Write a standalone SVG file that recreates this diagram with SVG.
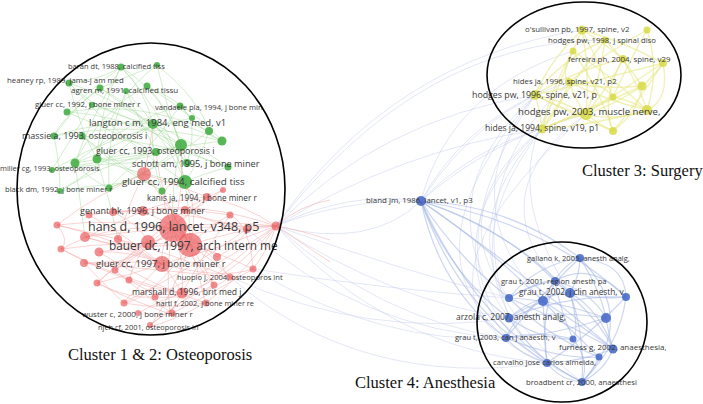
<svg xmlns="http://www.w3.org/2000/svg" width="703" height="404" viewBox="0 0 703 404">
<style>
.e path{fill:none;stroke-width:1}
.eg{stroke:#a8dba0;stroke-opacity:.5}
.er{stroke:#f3a8a8;stroke-opacity:.5}
.ey{stroke:#e8e888;stroke-opacity:.6}
.ey path{stroke-width:1.4}
.eb{stroke:#a3b5e4;stroke-opacity:.55}
.eb path{stroke-width:1.2}
.ex{stroke:#c0cae9;stroke-opacity:.5}
.ex path{stroke-width:.9}
.g{fill:#46ae46;fill-opacity:.9}
.r{fill:#e8484c;fill-opacity:.62}
.y{fill:#d6d83e;fill-opacity:.8}
.b{fill:#3f64c6;fill-opacity:.85}
text{font-family:"Open Sans","Liberation Sans",sans-serif;fill:#383838}
.t{font-family:"Liberation Serif","Times New Roman",serif;fill:#111;font-size:16.5px}
.ring{fill:none;stroke:#000;stroke-width:1.6}
</style>
<rect width="703" height="404" fill="#fff"/>
<g id="connectors" class="e">
<g class="ex">
<path d="M276 226 Q350 190 421 201"/>
<path d="M276 226 Q340 200 421 201"/>
<path d="M276 226 Q390 300 509 318"/>
<path d="M276 226 Q380 320 506 338"/>
<path d="M276 226 Q400 270 509 298"/>
<path d="M276 226 Q380 120 535 95"/>
<path d="M276 226 Q400 150 542 129"/>
<path d="M247 229 Q360 330 506 338"/>
<path d="M230 277 Q370 340 509 318"/>
<path d="M276 226 Q390 350 547 363"/>
<path d="M253 269 Q380 345 506 338"/>
<path d="M253 269 Q390 290 509 298"/>
<path d="M509 298 Q440 210 542 129"/>
<path d="M509 318 Q420 200 535 95"/>
<path d="M506 338 Q430 230 542 129"/>
<path d="M543 301 Q450 200 535 95"/>
<path d="M555 281 Q480 190 586 114"/>
<path d="M570 293 Q490 170 569 82"/>
<path d="M547 363 Q440 260 542 129"/>
<path d="M582 382 Q400 300 535 95"/>
<path d="M276 226 Q390 60 582 30"/>
<path d="M421 201 Q460 130 535 95"/>
<path d="M421 201 Q470 150 542 129"/>
<path d="M421 201 Q490 140 586 114"/>
<path d="M421 201 Q480 110 569 82"/>
<path d="M421 201 Q450 90 573 51"/>
<path d="M506 338 Q400 250 535 95"/>
<path d="M509 318 Q460 180 569 82"/>
<path d="M582 382 Q420 260 542 129"/>
<path d="M547 363 Q380 300 586 114"/>
<path d="M276 226 Q420 40 605 40"/>
<path d="M230 277 Q360 390 547 363"/>
<path d="M276 226 Q370 250 421 201"/>
</g>
<g class="eg">
<path d="M121 67 Q145 90 153 124"/>
<path d="M121 67 Q165 95 181 145"/>
<path d="M69 83 Q100 115 153 124"/>
<path d="M69 83 Q120 100 181 145"/>
<path d="M100 88 Q160 120 185 182"/>
<path d="M147 86 Q100 110 75 163"/>
<path d="M67 112 Q140 100 209 131"/>
<path d="M92 105 Q150 120 187 163"/>
<path d="M180 106 Q130 120 75 163"/>
<path d="M153 124 Q180 150 185 182"/>
<path d="M153 124 Q110 150 75 163"/>
<path d="M54 136 Q140 120 222 141"/>
<path d="M82 136 Q160 140 228 167"/>
<path d="M181 145 Q140 165 97 159"/>
<path d="M156 152 Q100 165 60 191"/>
<path d="M157 65 Q110 100 97 159"/>
<path d="M126 91 Q105 140 109 188"/>
<path d="M192 118 Q120 130 52 170"/>
<path d="M209 131 Q160 170 109 188"/>
<path d="M222 141 Q150 150 75 163"/>
<path d="M185 182 Q120 180 60 191"/>
<path d="M185 182 Q170 120 121 67"/>
<path d="M181 145 Q120 115 67 112"/>
<path d="M153 124 Q100 120 54 136"/>
<path d="M147 86 Q190 105 222 141"/>
<path d="M69 83 Q120 140 185 182"/>
<path d="M187 163 Q120 160 52 170"/>
<path d="M162 190 Q150 160 153 124"/>
<path d="M180 106 Q150 150 109 188"/>
<path d="M121 67 Q100 105 97 159"/>
<path d="M157 65 Q200 100 209 131"/>
<path d="M100 88 Q60 120 54 136"/>
<path d="M121 67 Q90 120 75 163"/>
<path d="M157 65 Q170 120 187 163"/>
<path d="M69 83 Q80 130 97 159"/>
<path d="M100 88 Q130 110 153 124"/>
<path d="M147 86 Q170 110 181 145"/>
<path d="M126 91 Q160 130 187 163"/>
<path d="M67 112 Q110 130 156 152"/>
<path d="M92 105 Q70 140 52 170"/>
<path d="M180 106 Q200 130 222 141"/>
<path d="M153 124 Q190 140 228 167"/>
<path d="M54 136 Q60 165 60 191"/>
<path d="M82 136 Q120 165 162 191"/>
<path d="M181 145 Q200 160 228 167"/>
<path d="M97 159 Q140 175 185 182"/>
<path d="M75 163 Q90 180 109 188"/>
<path d="M209 131 Q200 160 185 182"/>
<path d="M222 141 Q180 120 153 124"/>
<path d="M192 118 Q170 100 147 86"/>
<path d="M69 83 Q100 80 121 67"/>
<path d="M100 88 Q130 75 157 65"/>
<path d="M67 112 Q90 90 121 67"/>
<path d="M54 136 Q80 100 100 88"/>
<path d="M156 152 Q140 120 126 91"/>
<path d="M187 163 Q200 120 180 106"/>
<path d="M52 170 Q110 160 156 152"/>
<path d="M109 188 Q150 175 181 145"/>
<path d="M60 191 Q110 160 153 124"/>
<path d="M228 167 Q200 175 185 182"/>
<path d="M162 191 Q120 170 82 136"/>
<path d="M185 182 Q190 215 190 245"/>
<path d="M181 145 Q170 190 173 228"/>
<path d="M75 163 Q80 200 85 237"/>
<path d="M97 159 Q110 200 118 239"/>
</g>
<g class="er">
<path d="M144 174 Q150 150 153 124"/>
<path d="M173 228 Q185 190 181 145"/>
<path d="M190 245 Q200 210 185 182"/>
<path d="M173 228 Q185 235 190 245"/>
<path d="M173 228 Q160 245 162 264"/>
<path d="M173 228 Q130 225 85 237"/>
<path d="M173 228 Q115 218 57 225"/>
<path d="M173 228 Q225 220 276 226"/>
<path d="M173 228 Q185 260 182 293"/>
<path d="M173 228 Q165 270 170 314"/>
<path d="M173 228 Q140 255 115 270"/>
<path d="M173 228 Q195 210 207 197"/>
<path d="M190 245 Q235 230 276 226"/>
<path d="M190 245 Q215 262 230 277"/>
<path d="M190 245 Q145 245 99 252"/>
<path d="M190 245 Q125 240 61 249"/>
<path d="M190 245 Q200 275 205 303"/>
<path d="M190 245 Q175 290 150 327"/>
<path d="M190 245 Q225 255 253 269"/>
<path d="M162 264 Q120 245 85 237"/>
<path d="M162 264 Q120 260 84 263"/>
<path d="M162 264 Q130 275 97 283"/>
<path d="M162 264 Q175 280 182 293"/>
<path d="M162 264 Q140 285 123 303"/>
<path d="M148 242 Q200 230 247 229"/>
<path d="M148 242 Q135 260 129 280"/>
<path d="M143 211 Q185 230 217 257"/>
<path d="M113 212 Q170 205 230 215"/>
<path d="M89 215 Q125 235 162 264"/>
<path d="M144 174 Q170 205 190 245"/>
<path d="M144 174 Q95 195 57 225"/>
<path d="M276 226 Q215 250 162 264"/>
<path d="M276 226 Q262 225 247 229"/>
<path d="M276 226 Q245 205 207 197"/>
<path d="M276 226 Q180 225 85 237"/>
<path d="M276 226 Q268 250 253 269"/>
<path d="M276 226 Q220 265 155 297"/>
<path d="M230 277 Q160 270 84 263"/>
<path d="M99 252 Q150 285 205 303"/>
<path d="M61 249 Q120 280 182 293"/>
<path d="M223 190 Q170 225 115 270"/>
<path d="M185 210 Q140 245 97 283"/>
<path d="M118 239 Q175 255 230 277"/>
<path d="M247 229 Q190 270 123 303"/>
<path d="M182 293 Q155 290 129 280"/>
<path d="M205 303 Q180 318 150 327"/>
<path d="M170 314 Q130 300 97 283"/>
<path d="M143 211 Q100 230 61 249"/>
<path d="M230 215 Q200 260 170 314"/>
<path d="M276 226 Q300 205 330 200"/>
<path d="M276 226 Q305 245 330 262"/>
<path d="M276 226 Q300 230 330 240"/>
<path d="M57 225 Q70 240 61 249"/>
<path d="M85 237 Q120 250 148 242"/>
<path d="M61 249 Q100 270 129 280"/>
<path d="M99 252 Q130 250 162 264"/>
<path d="M84 263 Q110 290 124 303"/>
<path d="M115 270 Q150 300 172 313"/>
<path d="M97 283 Q130 300 155 297"/>
<path d="M129 280 Q160 300 182 293"/>
<path d="M124 303 Q160 310 206 303"/>
<path d="M138 313 Q160 300 182 293"/>
<path d="M150 325 Q180 300 214 285"/>
<path d="M214 285 Q200 260 190 245"/>
<path d="M217 257 Q240 245 247 229"/>
<path d="M230 215 Q250 225 253 269"/>
<path d="M207 197 Q170 200 143 211"/>
<path d="M223 190 Q200 200 185 210"/>
<path d="M113 212 Q140 225 148 242"/>
<path d="M89 215 Q120 210 143 211"/>
<path d="M57 225 Q100 235 118 239"/>
<path d="M118 239 Q140 250 162 264"/>
<path d="M173 228 Q130 270 84 263"/>
<path d="M190 245 Q150 300 124 303"/>
<path d="M173 228 Q210 250 230 277"/>
<path d="M276 226 Q230 280 182 293"/>
<path d="M276 226 Q250 270 206 303"/>
<path d="M276 226 Q200 200 143 211"/>
<path d="M276 226 Q200 290 150 325"/>
<path d="M247 229 Q190 210 113 212"/>
<path d="M253 269 Q200 300 172 313"/>
<path d="M230 277 Q200 300 155 297"/>
<path d="M162 264 Q120 240 57 225"/>
<path d="M148 242 Q110 270 97 283"/>
<path d="M185 210 Q230 230 247 229"/>
<path d="M144 174 Q130 200 118 239"/>
<path d="M144 174 Q190 190 207 197"/>
<path d="M190 245 Q210 225 230 215"/>
<path d="M173 228 Q200 270 214 285"/>
<path d="M162 264 Q220 280 253 269"/>
<path d="M173 228 Q150 180 185 182"/>
<path d="M190 245 Q160 200 156 152"/>
</g>
<g class="ey">
<path d="M582 30 Q590 70 586 114"/>
<path d="M582 30 Q550 60 535 95"/>
<path d="M647 30 Q660 70 647 110"/>
<path d="M605 40 Q570 85 542 129"/>
<path d="M573 51 Q600 90 613 131"/>
<path d="M623 59 Q575 70 535 95"/>
<path d="M663 63 Q630 85 586 114"/>
<path d="M569 82 Q605 100 647 110"/>
<path d="M642 86 Q590 110 542 129"/>
<path d="M535 95 Q560 100 586 114"/>
<path d="M613 97 Q600 65 582 30"/>
<path d="M586 114 Q600 125 613 131"/>
<path d="M647 110 Q595 125 542 129"/>
<path d="M623 59 Q610 85 586 114"/>
<path d="M663 63 Q655 75 642 86"/>
<path d="M642 86 Q615 105 586 114"/>
<path d="M535 95 Q575 115 613 131"/>
<path d="M605 40 Q625 60 642 86"/>
<path d="M647 30 Q610 50 569 82"/>
<path d="M573 51 Q610 75 647 110"/>
<path d="M582 30 Q600 40 623 59"/>
<path d="M569 82 Q575 100 586 114"/>
<path d="M613 97 Q575 115 542 129"/>
<path d="M663 63 Q640 100 613 131"/>
<path d="M535 95 Q600 80 663 63"/>
<path d="M582 30 Q560 80 542 129"/>
<path d="M647 30 Q630 60 613 97"/>
<path d="M605 40 Q600 80 586 114"/>
<path d="M573 51 Q560 75 569 82"/>
<path d="M623 59 Q640 90 647 110"/>
<path d="M663 63 Q670 100 647 110"/>
<path d="M569 82 Q600 80 613 97"/>
<path d="M642 86 Q640 110 613 131"/>
<path d="M535 95 Q540 110 542 129"/>
<path d="M613 97 Q630 100 647 110"/>
<path d="M586 114 Q560 120 542 129"/>
<path d="M605 40 Q560 60 535 95"/>
<path d="M573 51 Q550 90 542 129"/>
<path d="M623 59 Q600 100 613 131"/>
<path d="M582 30 Q620 40 663 63"/>
<path d="M569 82 Q560 110 542 129"/>
<path d="M642 86 Q600 90 569 82"/>
<path d="M535 95 Q600 130 647 110"/>
</g>
<g class="eb">
<path d="M421 201 Q510 205 580 258"/>
<path d="M421 201 Q500 225 555 281"/>
<path d="M421 201 Q510 230 570 293"/>
<path d="M421 201 Q480 240 543 301"/>
<path d="M421 201 Q455 255 509 298"/>
<path d="M421 201 Q450 275 509 318"/>
<path d="M421 201 Q440 290 506 338"/>
<path d="M421 201 Q460 310 547 363"/>
<path d="M421 201 Q480 330 582 382"/>
<path d="M421 201 Q540 220 626 297"/>
<path d="M421 201 Q520 270 613 349"/>
<path d="M580 258 Q580 275 570 293"/>
<path d="M580 258 Q535 265 509 298"/>
<path d="M555 281 Q590 290 606 318"/>
<path d="M570 293 Q535 295 509 318"/>
<path d="M570 293 Q585 335 582 382"/>
<path d="M570 293 Q600 310 613 349"/>
<path d="M543 301 Q570 330 599 357"/>
<path d="M543 301 Q515 315 506 338"/>
<path d="M509 298 Q560 320 613 349"/>
<path d="M509 298 Q555 300 606 318"/>
<path d="M626 297 Q590 335 547 363"/>
<path d="M626 297 Q620 345 582 382"/>
<path d="M509 318 Q555 310 606 318"/>
<path d="M509 318 Q535 360 582 382"/>
<path d="M606 318 Q555 335 506 338"/>
<path d="M506 338 Q520 355 547 363"/>
<path d="M573 339 Q560 310 555 281"/>
<path d="M547 363 Q580 362 613 349"/>
<path d="M599 357 Q545 335 509 298"/>
<path d="M582 382 Q605 370 613 349"/>
<path d="M626 297 Q565 295 509 318"/>
<path d="M555 281 Q540 320 547 363"/>
<path d="M580 258 Q640 320 582 382"/>
<path d="M543 301 Q580 325 613 349"/>
<path d="M580 258 Q545 290 506 338"/>
<path d="M555 281 Q530 285 509 298"/>
<path d="M570 293 Q560 290 543 301"/>
<path d="M543 301 Q520 310 509 318"/>
<path d="M606 318 Q610 340 613 349"/>
<path d="M573 339 Q590 360 582 382"/>
<path d="M599 357 Q590 375 582 382"/>
<path d="M509 318 Q540 340 573 339"/>
<path d="M506 338 Q540 330 573 339"/>
<path d="M580 258 Q600 290 606 318"/>
<path d="M626 297 Q600 300 570 293"/>
<path d="M555 281 Q590 260 626 297"/>
<path d="M509 298 Q540 280 555 281"/>
<path d="M547 363 Q560 380 582 382"/>
<path d="M506 338 Q560 360 599 357"/>
<path d="M543 301 Q545 340 547 363"/>
<path d="M570 293 Q580 330 573 339"/>
<path d="M613 349 Q600 320 555 281"/>
<path d="M580 258 Q560 265 543 301"/>
<path d="M580 258 Q625 262 626 297" stroke-width="4"/>
</g>
</g>
<g id="nodes">
<g id="n-g1"><circle class="g" cx="121" cy="67" r="3.5"/></g>
<g id="n-g2"><circle class="g" cx="157" cy="65" r="3"/></g>
<g id="n-g3"><circle class="g" cx="69" cy="83" r="3.5"/></g>
<g id="n-g4"><circle class="g" cx="100" cy="88" r="3.5"/></g>
<g id="n-g5"><circle class="g" cx="147" cy="86" r="3.5"/></g>
<g id="n-g6"><circle class="g" cx="126" cy="91" r="3"/></g>
<g id="n-g7"><circle class="g" cx="67" cy="112" r="3.5"/></g>
<g id="n-g8"><circle class="g" cx="92" cy="105" r="3"/></g>
<g id="n-g9"><circle class="g" cx="180" cy="106" r="3.5"/></g>
<g id="n-g10"><circle class="g" cx="153" cy="124" r="5"/></g>
<g id="n-g11"><circle class="g" cx="192" cy="118" r="3"/></g>
<g id="n-g12"><circle class="g" cx="209" cy="131" r="4"/></g>
<g id="n-g13"><circle class="g" cx="222" cy="141" r="4.5"/></g>
<g id="n-g14"><circle class="g" cx="54" cy="136" r="3.5"/></g>
<g id="n-g15"><circle class="g" cx="82" cy="136" r="3.5"/></g>
<g id="n-g16"><circle class="g" cx="181" cy="145" r="6"/></g>
<g id="n-g17"><circle class="g" cx="156" cy="152" r="4"/></g>
<g id="n-g18"><circle class="g" cx="187" cy="163" r="4"/></g>
<g id="n-g19"><circle class="g" cx="228" cy="167" r="3.5"/></g>
<g id="n-g20"><circle class="g" cx="75" cy="163" r="4.5"/></g>
<g id="n-g21"><circle class="g" cx="97" cy="159" r="4.5"/></g>
<g id="n-g22"><circle class="g" cx="52" cy="170" r="3"/></g>
<g id="n-g23"><circle class="g" cx="185" cy="182" r="7"/></g>
<g id="n-g24"><circle class="g" cx="60" cy="191" r="3"/></g>
<g id="n-g25"><circle class="g" cx="109" cy="188" r="3.5"/></g>
<g id="n-g26"><circle class="g" cx="162" cy="191" r="3.5"/></g>
<g id="n-r1"><circle class="r" cx="144" cy="174" r="7"/></g>
<g id="n-r2"><circle class="r" cx="207" cy="197" r="4"/></g>
<g id="n-r3"><circle class="r" cx="223" cy="190" r="3"/></g>
<g id="n-r4"><circle class="r" cx="89" cy="215" r="3.5"/></g>
<g id="n-r5"><circle class="r" cx="113" cy="212" r="4"/></g>
<g id="n-r6"><circle class="r" cx="143" cy="211" r="5"/></g>
<g id="n-r7"><circle class="r" cx="185" cy="210" r="4"/></g>
<g id="n-r8"><circle class="r" cx="173" cy="228" r="14"/></g>
<g id="n-r9"><circle class="r" cx="247" cy="229" r="4"/></g>
<g id="n-r10"><circle class="r" cx="190" cy="245" r="12"/></g>
<g id="n-r11"><circle class="r" cx="148" cy="242" r="7"/></g>
<g id="n-r12"><circle class="r" cx="162" cy="264" r="8"/></g>
<g id="n-r13"><circle class="r" cx="230" cy="277" r="3.5"/></g>
<g id="n-r14"><circle class="r" cx="182" cy="293" r="5.5"/></g>
<g id="n-r15"><circle class="r" cx="155" cy="297" r="3.5"/></g>
<g id="n-r16"><circle class="r" cx="206" cy="303" r="3.5"/></g>
<g id="n-r17"><circle class="r" cx="172" cy="313" r="3.5"/></g>
<g id="n-r18"><circle class="r" cx="150" cy="325" r="3"/></g>
<g id="n-r19"><circle class="r" cx="57" cy="225" r="3.5"/></g>
<g id="n-r20"><circle class="r" cx="85" cy="237" r="5"/></g>
<g id="n-r21"><circle class="r" cx="61" cy="249" r="3.5"/></g>
<g id="n-r22"><circle class="r" cx="99" cy="252" r="4.5"/></g>
<g id="n-r23"><circle class="r" cx="84" cy="263" r="4"/></g>
<g id="n-r24"><circle class="r" cx="115" cy="270" r="3.5"/></g>
<g id="n-r25"><circle class="r" cx="97" cy="283" r="3.5"/></g>
<g id="n-r26"><circle class="r" cx="129" cy="280" r="3.5"/></g>
<g id="n-r27"><circle class="r" cx="124" cy="303" r="3.5"/></g>
<g id="n-r28"><circle class="r" cx="276" cy="226" r="4.5"/></g>
<g id="n-r29"><circle class="r" cx="230" cy="215" r="3.5"/></g>
<g id="n-r30"><circle class="r" cx="217" cy="257" r="4"/></g>
<g id="n-r31"><circle class="r" cx="253" cy="269" r="3.5"/></g>
<g id="n-r32"><circle class="r" cx="118" cy="239" r="4"/></g>
<g id="n-r33"><circle class="r" cx="214" cy="285" r="3.5"/></g>
<g id="n-r34"><circle class="r" cx="138" cy="313" r="3"/></g>
<g id="n-y1"><circle class="y" cx="582" cy="30" r="4.5"/></g>
<g id="n-y2"><circle class="y" cx="647" cy="30" r="3.5"/></g>
<g id="n-y3"><circle class="y" cx="605" cy="40" r="3.5"/></g>
<g id="n-y4"><circle class="y" cx="573" cy="51" r="3.5"/></g>
<g id="n-y5"><circle class="y" cx="623" cy="59" r="4"/></g>
<g id="n-y6"><circle class="y" cx="663" cy="63" r="4"/></g>
<g id="n-y7"><circle class="y" cx="569" cy="82" r="4"/></g>
<g id="n-y8"><circle class="y" cx="642" cy="86" r="4.5"/></g>
<g id="n-y9"><circle class="y" cx="535" cy="95" r="5"/></g>
<g id="n-y10"><circle class="y" cx="613" cy="97" r="3.5"/></g>
<g id="n-y11"><circle class="y" cx="586" cy="114" r="6"/></g>
<g id="n-y12"><circle class="y" cx="647" cy="110" r="5"/></g>
<g id="n-y13"><circle class="y" cx="542" cy="129" r="4.5"/></g>
<g id="n-y14"><circle class="y" cx="613" cy="131" r="4"/></g>
<g id="n-b0"><circle class="b" cx="421" cy="201" r="5"/></g>
<g id="n-b1"><circle class="b" cx="580" cy="258" r="4"/></g>
<g id="n-b2"><circle class="b" cx="555" cy="281" r="4"/></g>
<g id="n-b3"><circle class="b" cx="570" cy="293" r="5"/></g>
<g id="n-b4"><circle class="b" cx="543" cy="301" r="5"/></g>
<g id="n-b5"><circle class="b" cx="509" cy="298" r="4"/></g>
<g id="n-b6"><circle class="b" cx="626" cy="297" r="4"/></g>
<g id="n-b7"><circle class="b" cx="509" cy="318" r="4.5"/></g>
<g id="n-b8"><circle class="b" cx="606" cy="318" r="5"/></g>
<g id="n-b9"><circle class="b" cx="506" cy="338" r="4"/></g>
<g id="n-b10"><circle class="b" cx="573" cy="339" r="3.5"/></g>
<g id="n-b11"><circle class="b" cx="613" cy="349" r="4.5"/></g>
<g id="n-b12"><circle class="b" cx="547" cy="363" r="4"/></g>
<g id="n-b13"><circle class="b" cx="599" cy="357" r="3.5"/></g>
<g id="n-b14"><circle class="b" cx="582" cy="382" r="4"/></g>
</g>
<g id="labels">
<text x="68" y="68.6" font-size="7.5">baran dt, 1988, calcified tiss</text>
<text x="7" y="82.8" font-size="7.8">heaney rp, 1989, jama-j am med</text>
<text x="71" y="92.8" font-size="8">agren m, 1991, calcified tissu</text>
<text x="35" y="106.8" font-size="7.8">gluer cc, 1992, j bone miner r</text>
<text x="155" y="109.7" font-size="7.6">vandaele pla, 1994, j bone min</text>
<text x="89" y="126.3" font-size="9.5">langton c m, 1984, eng med, v1</text>
<text x="22" y="139.2" font-size="9">massie a, 1993, osteoporosis i</text>
<text x="96" y="154.1" font-size="8.8">gluer cc, 1993, osteoporosis i</text>
<text x="132" y="167.2" font-size="9.2">schott am, 1995, j bone miner</text>
<text x="0" y="170.6" font-size="7.5">miller cg, 1993, osteoporosis</text>
<text x="122" y="185.4" font-size="9.8">gluer cc, 1994, calcified tiss</text>
<text x="5" y="191.7" font-size="7.6">black dm, 1992, j bone miner r</text>
<text x="147" y="200.9" font-size="8.2">kanis ja, 1994, j bone miner r</text>
<text x="80" y="214.2" font-size="9">genant hk, 1996, j bone miner</text>
<text x="88" y="231.4" font-size="12.5">hans d, 1996, lancet, v348, p5</text>
<text x="109" y="250.1" font-size="11.8">bauer dc, 1997, arch intern me</text>
<text x="96" y="267.4" font-size="9.6">gluer cc, 1997, j bone miner r</text>
<text x="177" y="279.7" font-size="7.6">huopio j, 2004, osteoporos int</text>
<text x="132" y="295" font-size="8.6">marshall d, 1996, brit med j</text>
<text x="156" y="305.6" font-size="7.4">hartl f, 2002, j bone miner re</text>
<text x="82" y="316.8" font-size="8">wuster c, 2000, j bone miner r</text>
<text x="98" y="329.6" font-size="7.4">njeh cf, 2001, osteoporosis in</text>
<text x="366" y="202.8" font-size="7.9">bland jm, 1986, lancet, v1, p3</text>
<text x="525" y="31.8" font-size="7.9">o'sullivan pb, 1997, spine, v2</text>
<text x="548" y="42.7" font-size="7.8">hodges pw, 1998, j spinal diso</text>
<text x="568" y="61.8" font-size="7.9">ferreira ph, 2004, spine, v29</text>
<text x="513" y="83.7" font-size="7.8">hides ja, 1996, spine, v21, p2</text>
<text x="472" y="98.1" font-size="8.8">hodges pw, 1996, spine, v21, p</text>
<text x="518" y="115.4" font-size="9.6">hodges pw, 2003, muscle nerve,</text>
<text x="485" y="131" font-size="8.6">hides ja, 1994, spine, v19, p1</text>
<text x="527" y="260.6" font-size="7.5">galiano k, 2005, anesth analg,</text>
<text x="501" y="283.7" font-size="7.6">grau t, 2001, region anesth pa</text>
<text x="519" y="294.9" font-size="8.3">grau t, 2002, j clin anesth, v</text>
<text x="456" y="319.9" font-size="8.4">arzola c, 2007, anesth analg,</text>
<text x="455" y="339.7" font-size="7.6">grau t, 2003, can j anaesth, v</text>
<text x="559" y="349.8" font-size="8">furness g, 2002, anaesthesia,</text>
<text x="493" y="364.7" font-size="7.7">carvalho jose carlos almeida,</text>
<text x="526" y="384.7" font-size="7.7">broadbent cr, 2000, anaesthesi</text>
</g>
<g id="clusters">
<ellipse class="ring" cx="151" cy="189" rx="134" ry="146"/>
<ellipse class="ring" cx="584" cy="75" rx="97" ry="73"/>
<ellipse class="ring" cx="562" cy="322" rx="85" ry="80"/>
<text class="t" x="68" y="360">Cluster 1 &amp; 2: Osteoporosis</text>
<text class="t" x="582" y="176">Cluster 3: Surgery</text>
<text class="t" x="355" y="388">Cluster 4: Anesthesia</text>
</g>
</svg>
